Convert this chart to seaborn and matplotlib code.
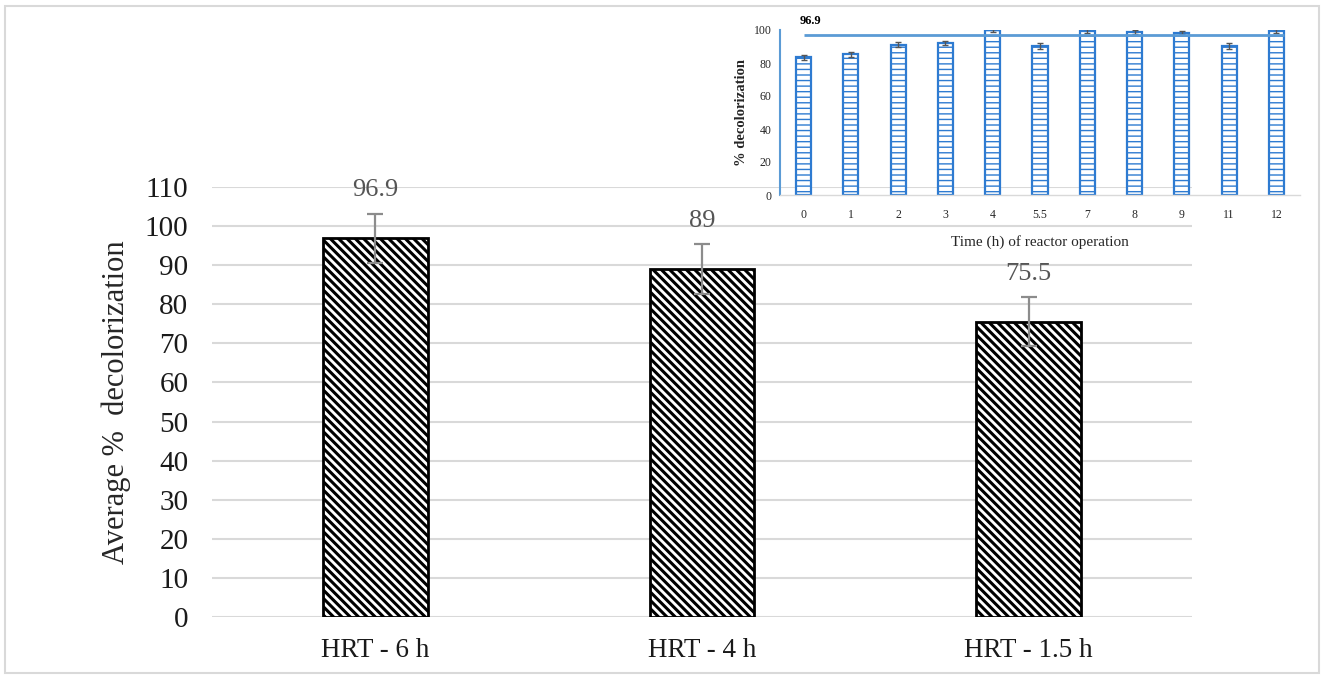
import numpy as np
import pandas as pd
import matplotlib
matplotlib.use("Agg")
import matplotlib.pyplot as plt
from matplotlib.patches import Rectangle
import seaborn as sns

# main chart data
hrt_labels = ["HRT - 6 h", "HRT - 4 h", "HRT - 1.5 h"]
avg_decol = [96.9, 89, 75.5]
avg_err = [6.3, 6.3, 6.3]

# inset data (HRT 6 h run)
time_labels = ["0", "1", "2", "3", "4", "5.5", "7", "8", "9", "11", "12"]
decol = [83.4, 85.2, 91.2, 92.2, 99.8, 90.3, 99.4, 98.8, 98.4, 90.3, 99.4]
decol_err = [1.6, 1.5, 1.6, 1.4, 1.0, 1.6, 1.0, 1.0, 1.1, 1.6, 1.0]
avg_line = 96.9

sns.set_theme(style="white")
plt.rcParams["font.family"] = ["Liberation Serif", "DejaVu Serif"]

W, H = 1325, 679
fig = plt.figure(figsize=(W / 100, H / 100), dpi=100)

# outer frame
fig.patches.append(Rectangle((5 / W, 6 / H), 1314 / W, 667 / H, transform=fig.transFigure,
                             fill=False, edgecolor="#d9d9d9", lw=1.5))

# ----- main bar chart -----
ax = fig.add_axes([212 / W, 62 / H, 980 / W, 430 / H])
df = pd.DataFrame({"hrt": hrt_labels, "val": avg_decol})
sns.barplot(data=df, x="hrt", y="val", ax=ax, color="white", width=0.32,
            edgecolor="black", linewidth=2, hatch="\\\\\\\\", errorbar=None, zorder=2)
for p in ax.patches:
    p.set_hatch_linewidth(2.2)
ax.errorbar(range(len(avg_decol)), avg_decol, yerr=avg_err, fmt="none",
            ecolor="#8c8c8c", elinewidth=1.6, capsize=5.5, capthick=1.6, zorder=3)
for i, (v, e) in enumerate(zip(avg_decol, avg_err)):
    ax.annotate(f"{v:g}", xy=(i, v + e), xytext=(0, 17), textcoords="offset points",
                ha="center", va="center", fontsize=19, color="#555555")

ax.set_xlim(-0.5, len(avg_decol) - 0.5)
ax.set_ylim(0, 110)
ax.set_yticks(range(0, 111, 10))
ax.yaxis.grid(True, color="#d9d9d9", lw=1.5, zorder=0)
ax.set_axisbelow(True)
for s in ax.spines.values():
    s.set_visible(False)
ax.tick_params(axis="y", labelsize=21, length=0, pad=17, labelcolor="#1a1a1a")
ax.tick_params(axis="x", labelsize=19.5, length=0, pad=15, labelcolor="#1a1a1a")
ax.set_xlabel("")
ax.set_ylabel("Average %  decolorization", fontsize=22, labelpad=10)
ax.patch.set_alpha(0)

# ----- inset chart -----
ax_in = fig.add_axes([780 / W, 484 / H, 520 / W, 165 / H])
dfi = pd.DataFrame({"t": time_labels, "val": decol})
sns.barplot(data=dfi, x="t", y="val", ax=ax_in, color="white", width=0.32,
            edgecolor="#2e7bd1", linewidth=1.6, hatch="---", errorbar=None, zorder=2)
for p in ax_in.patches:
    p.set_hatch_linewidth(1.0)
ax_in.errorbar(range(len(decol)), decol, yerr=decol_err, fmt="none",
               ecolor="#555555", elinewidth=1.0, capsize=2.5, capthick=1.0, zorder=3)
ax_in.hlines(avg_line, 0, len(decol) - 1 + 0.17, color="#5b9bd5", lw=2, zorder=4)
ax_in.annotate(f"{avg_line:g}", xy=(0, avg_line), xytext=(-3, 10), textcoords="offset points",
               ha="left", va="center", fontsize=9, fontweight="bold", color="black")

ax_in.set_xlim(-0.5, len(decol) - 0.5)
ax_in.set_ylim(0, 100)
ax_in.set_yticks(range(0, 101, 20))
ax_in.set_xticks(np.arange(-0.5, len(decol)), minor=True)
ax_in.tick_params(axis="y", labelsize=8.5, length=0, pad=6)
ax_in.tick_params(axis="x", which="major", labelsize=8.5, length=0, pad=10)
ax_in.tick_params(axis="x", which="minor", length=4, width=1, color="#d9d9d9", direction="out")
ax_in.spines["top"].set_visible(False)
ax_in.spines["right"].set_visible(False)
ax_in.spines["left"].set_color("#5b9bd5")
ax_in.spines["left"].set_linewidth(1.5)
ax_in.spines["bottom"].set_color("#d9d9d9")
ax_in.spines["bottom"].set_linewidth(1)
ax_in.set_xlabel("Time (h) of reactor operation", fontsize=11, labelpad=10)
ax_in.set_ylabel("% decolorization", fontsize=10.5, fontweight="bold", labelpad=4)
ax_in.patch.set_alpha(0)

fig.savefig("out.png", dpi=100)
